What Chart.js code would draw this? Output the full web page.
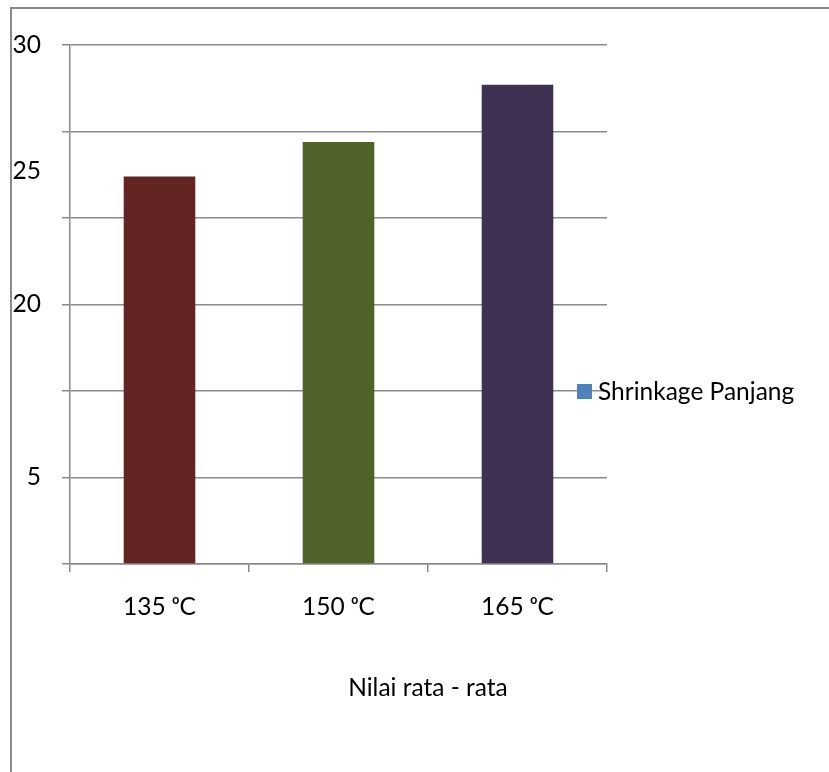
<!DOCTYPE html>
<html>
<head>
<meta charset="utf-8">
<script src="https://cdn.jsdelivr.net/npm/chart.js@4"></script>
<style>
  html, body { margin: 0; padding: 0; background: #fff; }
</style>
</head>
<body>
<canvas id="myChart" width="829" height="772"></canvas>
<script>
const categories = ['135 ᵒC', '150 ᵒC', '165 ᵒC']
const shrinkage = [22.4, 24.4, 27.7]
const barColors = ['#632523', '#4F6228', '#3F3151']
const seriesName = 'Shrinkage Panjang'
const legendColor = '#4F81BD'
const axisTitle = 'Nilai rata - rata'
const gridValues = [0, 5, 10, 15, 20, 25, 30]
const yLabelValues = [30, 22.7, 15, 5]
const yLabelTexts = ['30', '25', '20', '5']

const lineGray = '#8a8a8a'
const fontFamily = "Lato, 'DejaVu Sans', sans-serif"
const fontSize = 24.5

const extras = {
  id: 'extras',
  afterDraw: chart => {
    const ctx = chart.ctx
    ctx.save()
    // outer frame, only the left and top edges are in view
    ctx.strokeStyle = lineGray
    ctx.lineWidth = 2
    ctx.beginPath()
    ctx.moveTo(11, 772)
    ctx.lineTo(11, 8)
    ctx.lineTo(829, 8)
    ctx.stroke()

    // legend sits over the plot's right edge
    ctx.fillStyle = legendColor
    ctx.fillRect(577, 384, 15, 15)
    ctx.fillStyle = '#000'
    ctx.font = fontSize + 'px ' + fontFamily
    ctx.textAlign = 'left'
    ctx.textBaseline = 'middle'
    ctx.fillText(chart.data.datasets[0].label, 598, 392)

    // axis title
    ctx.textAlign = 'center'
    ctx.fillText(axisTitle, 428, 688)
    ctx.restore()
  }
}

const ctx = document.getElementById('myChart').getContext('2d')
new Chart(ctx, {
  type: 'bar',
  data: {
    labels: categories,
    datasets: [{
      label: seriesName,
      data: shrinkage,
      backgroundColor: barColors,
      borderWidth: 0,
      barPercentage: 0.4,
      categoryPercentage: 1
    }]
  },
  options: {
    responsive: false,
    animation: false,
    layout: { padding: { left: 10, top: 45, right: 222, bottom: 148 } },
    plugins: {
      legend: { display: false },
      tooltip: { enabled: false }
    },
    scales: {
      x: {
        afterFit: scale => { scale.height = 60 },
        grid: {
          offset: true,
          drawOnChartArea: false,
          color: lineGray,
          lineWidth: 1.5,
          tickLength: 8
        },
        border: { color: lineGray, width: 1.5 },
        ticks: {
          color: '#000',
          padding: 20,
          font: { family: fontFamily, size: fontSize }
        }
      },
      y: {
        min: 0,
        max: 30,
        afterFit: scale => { scale.width = 60 },
        afterBuildTicks: scale => {
          const vals = gridValues.concat(yLabelValues.filter(v => !gridValues.includes(v)))
          vals.sort((a, b) => a - b)
          scale.ticks = vals.map(v => ({ value: v }))
        },
        grid: {
          color: c => (c.tick && gridValues.includes(c.tick.value)) ? lineGray : 'rgba(0,0,0,0)',
          lineWidth: 1.5,
          tickLength: 8
        },
        border: { color: lineGray, width: 1.5 },
        ticks: {
          color: '#000',
          padding: 21,
          font: { family: fontFamily, size: fontSize },
          callback: value => {
            const i = yLabelValues.indexOf(value)
            return i >= 0 ? yLabelTexts[i] : ''
          }
        }
      }
    }
  },
  plugins: [extras]
})
</script>
</body>
</html>
